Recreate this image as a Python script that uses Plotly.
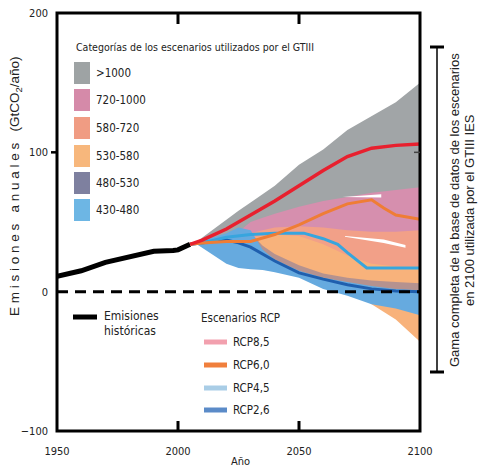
import plotly.graph_objects as go

# ---------------- data ----------------
hist_years = [1950, 1960, 1970, 1980, 1990, 1998, 2000, 2005]
hist_emis = [11, 15, 21, 25, 29, 29.5, 30, 34]

band_years = [2007, 2020, 2025, 2030, 2035, 2040, 2050, 2060, 2070, 2080, 2090, 2100]
gray_hi = [35, 52, 58, 64, 70, 76, 91, 102, 116, 126, 136, 150]
gray_lo = [35, 36, 37, 38, 40, 42, 46, 50, 55, 60, 62, 65]
pink_hi = [35, 38, 43, 50, 53, 56, 61, 65, 68, 71, 73, 75]
pink_lo = [35, 37, 38, 40, 42, 44, 46, 44, 43, 42, 42, 43]
salmon_hi = [35, 37, 39, 42, 44, 46, 47, 46, 44, 43, 43, 44]
salmon_lo = [35, 34, 33, 32, 30, 28, 24, 20, 18, 17, 16, 16]
orange_hi = [35, 36, 37, 38, 40, 41, 40, 34, 26, 20, 18, 18]
orange_lo = [35, 34, 33, 32, 28, 20, 13, 8, 5, -9, -20, -36]
purple_hi = [35, 40, 44, 42, 33, 27, 19, 13, 10, 8, 7, 6]
purple_lo = [35, 22, 19, 17, 16, 15, 11, 5, 0, -3, -5, -8]
blue_hi = [35, 42, 46, 44, 30, 23, 15, 10, 7, 4, 2, 1]
blue_lo = [35, 20, 17, 16, 15.5, 14, 10, 2, -3, -9, -12, -17]

gapA_x = [2068, 2076, 2084, 2084, 2076, 2068]
gapA_y = [68, 69, 70, 67.5, 67.8, 68]
gapB_x = [2069, 2085, 2094, 2094, 2085, 2069]
gapB_y = [40, 37.5, 33.5, 31.5, 35, 39.5]

rcp85_years = [2005, 2010, 2020, 2030, 2040, 2050, 2060, 2070, 2080, 2090, 2100]
rcp85 = [34, 37, 45, 55, 65, 76, 87, 97, 103, 105, 106]
rcp60_years = [2005, 2010, 2020, 2030, 2040, 2050, 2060, 2070, 2080, 2085, 2090, 2100]
rcp60 = [34, 35, 36, 36, 41, 48, 56, 63, 66, 60, 55, 52]
rcp45_years = [2005, 2010, 2020, 2030, 2040, 2047, 2052, 2060, 2066, 2070, 2078, 2090, 2100]
rcp45 = [34, 35, 39, 41, 42, 42, 42, 38, 34, 28, 17, 17, 17]
rcp26_years = [2005, 2010, 2020, 2025, 2030, 2040, 2050, 2060, 2070, 2080, 2090, 2100]
rcp26 = [34, 35, 37, 35, 32, 22, 13.5, 9, 5, 2, 0.5, 0]

x_ticks = [1950, 2000, 2050, 2100]
y_ticks = [-100, 0, 100, 200]

cat_labels = [">1000", "720-1000", "580-720", "530-580", "480-530", "430-480"]
cat_colors = ["#9ea3a4", "#d58aa9", "#f09c83", "#f7b77c", "#7e809f", "#6db6e4"]
rcp_labels = ["RCP8,5", "RCP6,0", "RCP4,5", "RCP2,6"]
rcp_swatch = ["#f2a0ae", "#f07f3c", "#a9cde6", "#5b8bc8"]

# ---------------- figure ----------------
W, H = 480, 467
L, R, T, B = 57, 60, 13, 36
PW, PH = W - L - R, H - T - B


def px(x):
    return (x - L) / PW


def py(y):
    return (H - B - y) / PH


NARROW = "Liberation Sans Narrow, Arial Narrow, DejaVu Sans Condensed, Liberation Sans, sans-serif"
REG = "Liberation Sans, Arial, sans-serif"

fig = go.Figure()


def band(hi, lo, color):
    fig.add_trace(go.Scatter(
        x=band_years + band_years[::-1], y=hi + lo[::-1], fill="toself",
        fillcolor=color, line=dict(width=0), mode="lines",
        hoverinfo="skip", showlegend=False))


band(gray_hi, gray_lo, "#a1a5a7")
band(pink_hi, pink_lo, "#d68fae")
band(salmon_hi, salmon_lo, "#f2a088")
band(orange_hi, orange_lo, "#f8b27b")
band(purple_hi, purple_lo, "rgba(125,120,160,0.55)")
band(blue_hi, blue_lo, "#66aadf")

for gx, gy in [(gapA_x, gapA_y), (gapB_x, gapB_y)]:
    fig.add_trace(go.Scatter(x=gx, y=gy, fill="toself", fillcolor="white",
                             line=dict(width=0), mode="lines",
                             hoverinfo="skip", showlegend=False))

fig.add_trace(go.Scatter(x=hist_years, y=hist_emis, mode="lines",
                         line=dict(color="black", width=5), showlegend=False))
for xs, ys, col, w in [(rcp26_years, rcp26, "#1f5fae", 3),
                       (rcp45_years, rcp45, "#37a5de", 3),
                       (rcp60_years, rcp60, "#ef7d35", 3),
                       (rcp85_years, rcp85, "#e8202e", 3.5)]:
    fig.add_trace(go.Scatter(x=xs, y=ys, mode="lines",
                             line=dict(color=col, width=w), showlegend=False))

shapes = []
# zero dashed line
shapes.append(dict(type="line", xref="paper", yref="y", x0=0, x1=1, y0=0, y1=0,
                   line=dict(color="black", width=3, dash="11px,7px")))
# frame
shapes.append(dict(type="rect", xref="paper", yref="paper", x0=0, x1=1, y0=0, y1=1,
                   line=dict(color="black", width=3)))
# ticks
for xv in [2000, 2050]:
    shapes.append(dict(type="line", xref="x", yref="paper", x0=xv, x1=xv,
                       y0=0, y1=10 / PH, line=dict(color="black", width=3)))
    shapes.append(dict(type="line", xref="x", yref="paper", x0=xv, x1=xv,
                       y0=1, y1=1 - 11 / PH, line=dict(color="black", width=3)))
shapes.append(dict(type="line", xref="paper", yref="y", x0=-6 / PW, x1=0, y0=100, y1=100,
                   line=dict(color="black", width=2.5)))
shapes.append(dict(type="line", xref="paper", yref="y", x0=1, x1=1 - 6 / PW, y0=100, y1=100,
                   line=dict(color="#444", width=1.5)))
# bracket on the right
shapes.append(dict(type="line", xref="paper", yref="paper", x0=px(437), x1=px(437),
                   y0=py(47), y1=py(372), line=dict(color="black", width=1.5)))
for yy in [47, 372]:
    shapes.append(dict(type="line", xref="paper", yref="paper", x0=px(430), x1=px(444),
                       y0=py(yy), y1=py(yy), line=dict(color="black", width=3)))

annotations = []
# category legend
annotations.append(dict(xref="paper", yref="paper", x=px(74), y=py(47), xanchor="left",
                        yanchor="middle", showarrow=False,
                        text="Categorías de los escenarios utilizados por el GTIII",
                        font=dict(family=NARROW, size=10.5, color="#222")))
sw_tops = [62, 89, 117, 145, 172, 199]
for i, (lab, col) in enumerate(zip(cat_labels, cat_colors)):
    t = sw_tops[i]
    shapes.append(dict(type="rect", xref="paper", yref="paper", x0=px(74), x1=px(90),
                       y0=py(t + 22), y1=py(t), fillcolor=col, line=dict(width=0)))
    annotations.append(dict(xref="paper", yref="paper", x=px(94), y=py(t + 11),
                            xanchor="left", yanchor="middle", showarrow=False, text=lab,
                            font=dict(family=NARROW, size=11.5, color="#222")))

# historical legend
shapes.append(dict(type="line", xref="paper", yref="paper", x0=px(73), x1=px(97),
                   y0=py(317), y1=py(317), line=dict(color="black", width=5)))
annotations.append(dict(xref="paper", yref="paper", x=px(102), y=py(316), xanchor="left",
                        yanchor="middle", showarrow=False, text="Emisiones",
                        font=dict(family=NARROW, size=12, color="#222")))
annotations.append(dict(xref="paper", yref="paper", x=px(102), y=py(331), xanchor="left",
                        yanchor="middle", showarrow=False, text="históricas",
                        font=dict(family=NARROW, size=12, color="#222")))
# RCP legend
annotations.append(dict(xref="paper", yref="paper", x=px(199), y=py(318), xanchor="left",
                        yanchor="middle", showarrow=False, text="Escenarios RCP",
                        font=dict(family=NARROW, size=11.5, color="#222")))
rcp_y = [342, 365, 388, 410]
for lab, col, yy in zip(rcp_labels, rcp_swatch, rcp_y):
    shapes.append(dict(type="line", xref="paper", yref="paper", x0=px(204), x1=px(227),
                       y0=py(yy), y1=py(yy), line=dict(color=col, width=5)))
    annotations.append(dict(xref="paper", yref="paper", x=px(231), y=py(yy), xanchor="left",
                            yanchor="middle", showarrow=False, text=lab,
                            font=dict(family=NARROW, size=11.5, color="#222")))

# axis titles
nb = "\u00a0"
ytitle = nb.join("Emisiones") + nb * 3 + nb.join("anuales") + nb * 3 + "(GtCO<sub>2</sub>/año)"
annotations.append(dict(xref="paper", yref="paper", x=px(15), y=py(186), xanchor="center",
                        yanchor="middle", textangle=-90, showarrow=False, text=ytitle,
                        font=dict(family=REG, size=13.5, color="#222")))
annotations.append(dict(xref="paper", yref="paper", x=px(240), y=py(462), xanchor="center",
                        yanchor="middle", showarrow=False, text="Año",
                        font=dict(family=NARROW, size=11, color="#222")))
# right text
annotations.append(dict(xref="paper", yref="paper", x=px(455), y=py(210), xanchor="center",
                        yanchor="middle", textangle=-90, showarrow=False,
                        text="Gama completa de la base de datos de los escenarios",
                        font=dict(family=REG, size=13, color="#222")))
annotations.append(dict(xref="paper", yref="paper", x=px(470), y=py(210), xanchor="center",
                        yanchor="middle", textangle=-90, showarrow=False,
                        text="en 2100 utilizada por el GTIII IES",
                        font=dict(family=REG, size=13, color="#222")))

fig.update_layout(
    width=W, height=H, margin=dict(l=L, r=R, t=T, b=B),
    paper_bgcolor="white", plot_bgcolor="white",
    shapes=shapes, annotations=annotations,
    xaxis=dict(range=[1950, 2100], tickvals=x_ticks, ticks="", showgrid=False,
               zeroline=False, showline=False, ticklabelstandoff=12, automargin=False,
               tickfont=dict(family=NARROW, size=11, color="#222")),
    yaxis=dict(range=[-100, 200], tickvals=y_ticks, ticks="", showgrid=False,
               zeroline=False, showline=False, ticklabelstandoff=8, automargin=False,
               tickfont=dict(family=NARROW, size=11, color="#222")),
)

fig.write_html("out.html")
